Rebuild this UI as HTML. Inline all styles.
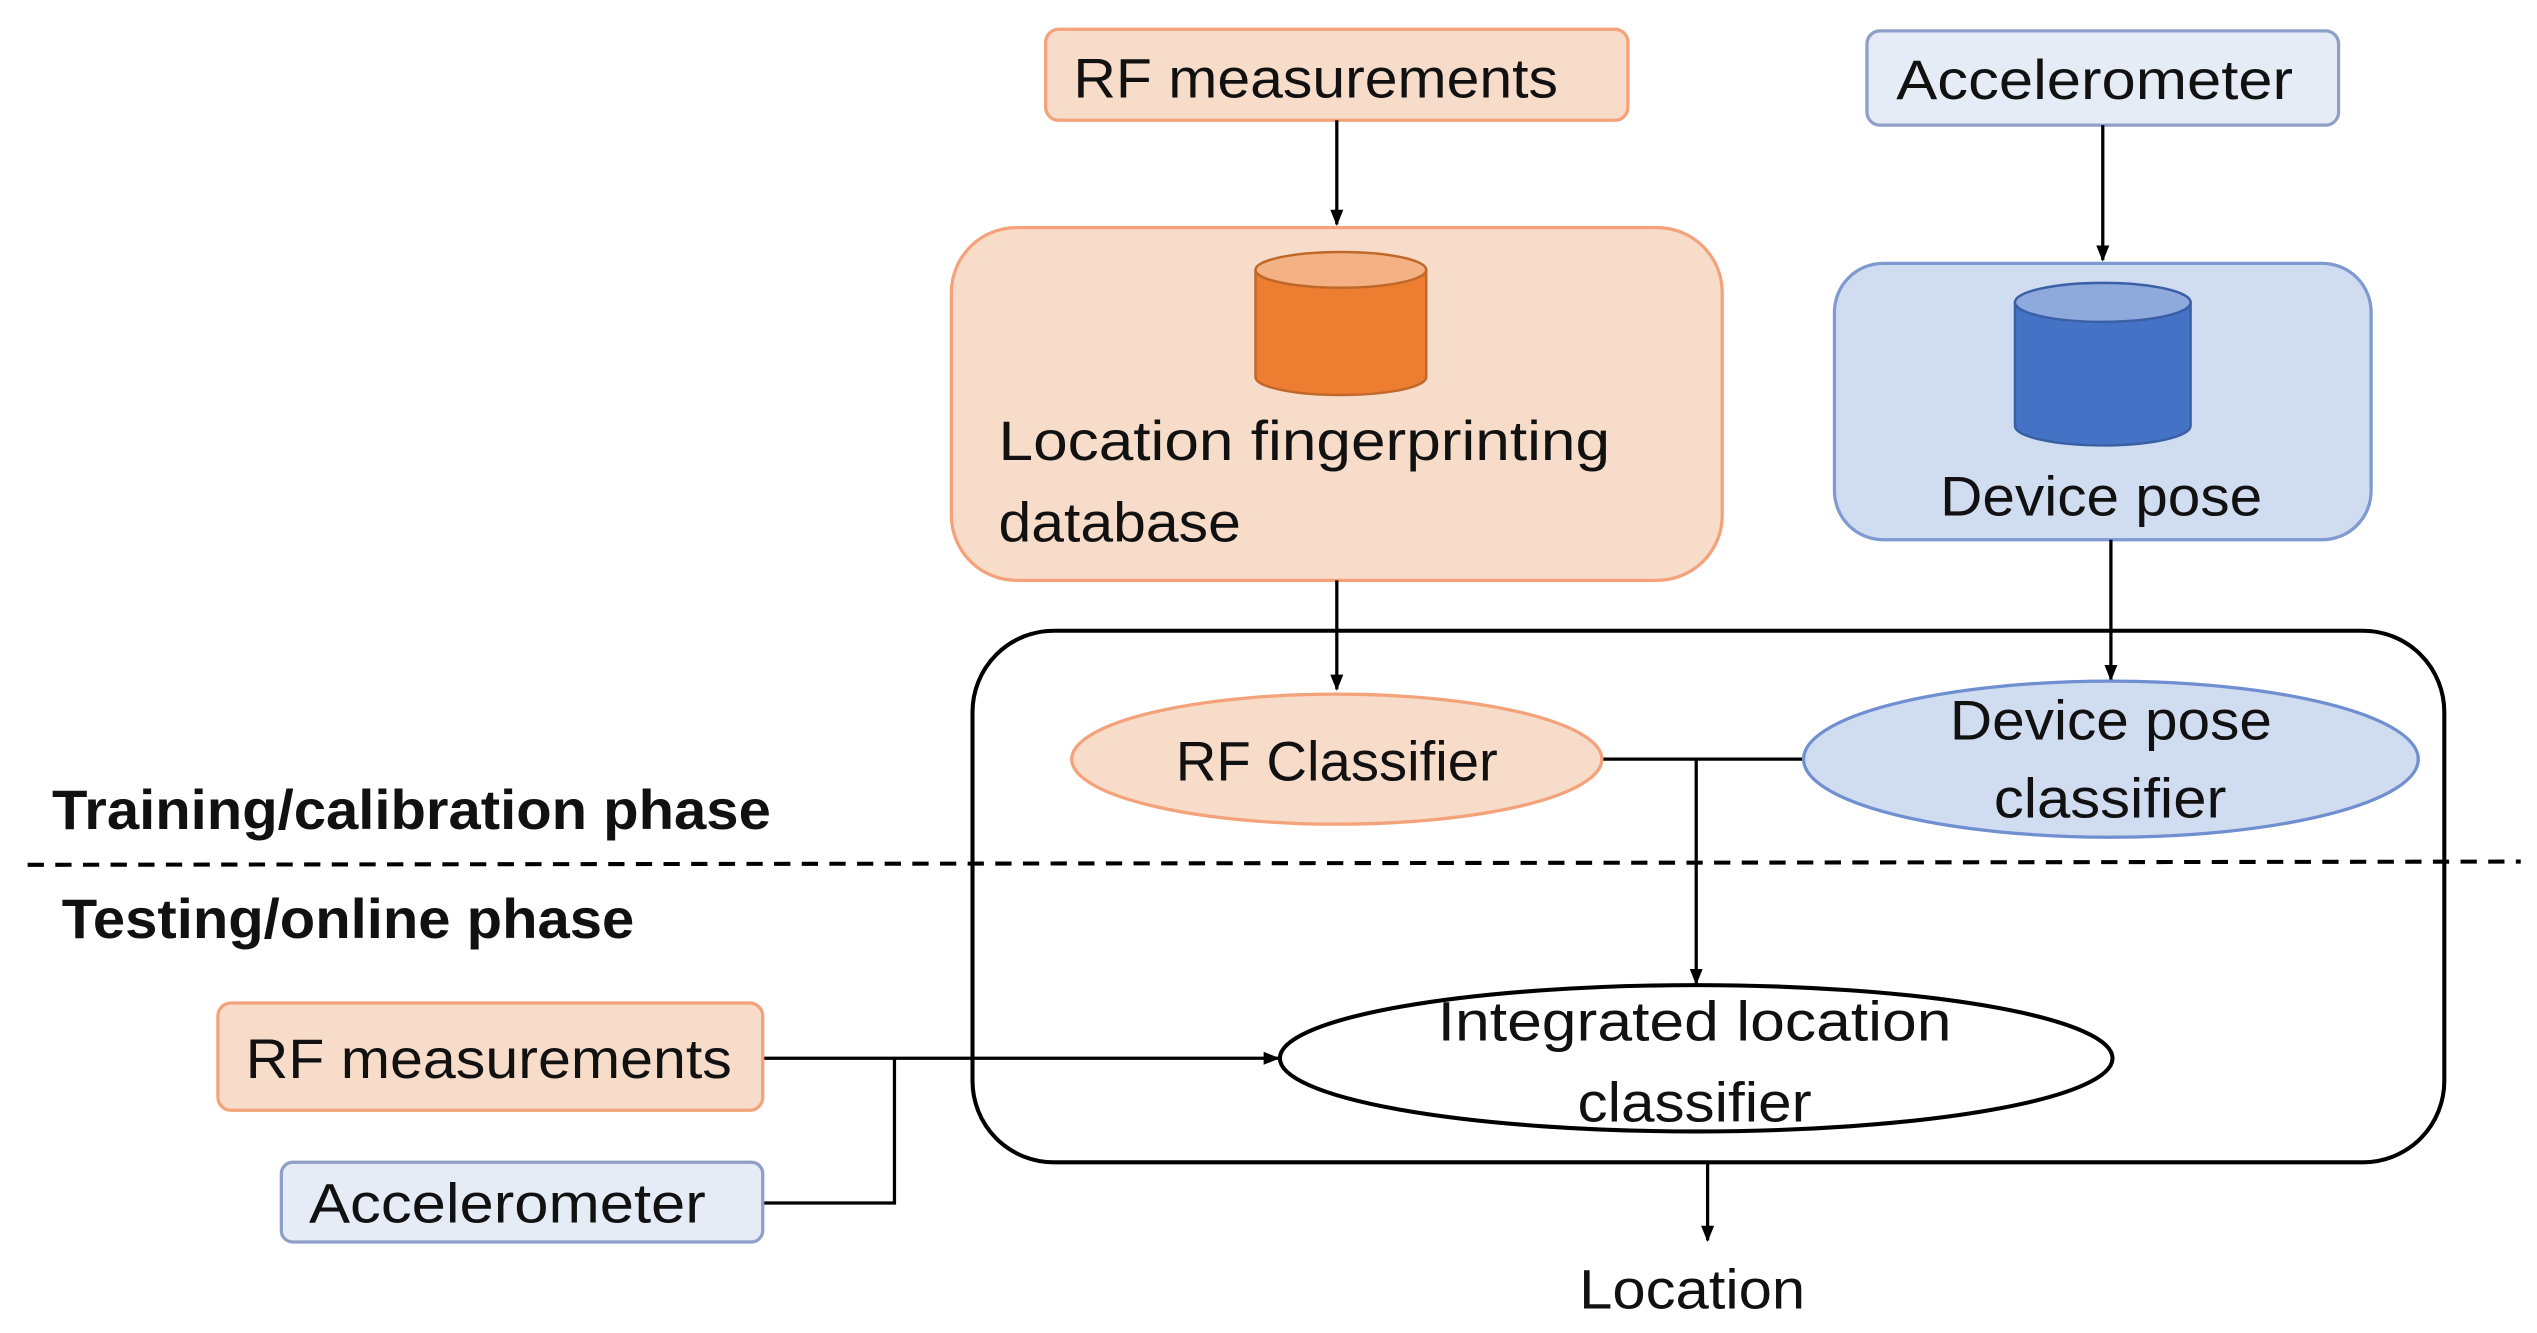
<!DOCTYPE html>
<html><head><meta charset="utf-8"><style>html,body{margin:0;padding:0;background:#fff}svg{display:block}</style></head><body>
<svg width="2537" height="1333" viewBox="0 0 1560 820" preserveAspectRatio="none" xmlns="http://www.w3.org/2000/svg" font-family="Liberation Sans, sans-serif" font-size="34" fill="#111">
<defs><marker id="a" markerWidth="10" markerHeight="10" refX="9" refY="5" orient="auto" markerUnits="userSpaceOnUse"><path d="M0,1 L10,5 L0,9 z" fill="#000"/></marker></defs>
<rect x="643" y="18" width="358" height="56" rx="8" fill="#f8dcca" stroke="#f4a27a" stroke-width="2"/>
<text x="660" y="60" textLength="298" lengthAdjust="spacingAndGlyphs">RF measurements</text>
<rect x="1148" y="19" width="290" height="58" rx="8" fill="#e5ecf6" stroke="#8e9fc8" stroke-width="2"/>
<text x="1166" y="61" textLength="244" lengthAdjust="spacingAndGlyphs">Accelerometer</text>
<g stroke="#000" stroke-width="2" fill="none">
<line x1="822" y1="74" x2="822" y2="138" marker-end="url(#a)"/>
<line x1="1293" y1="77" x2="1293" y2="160" marker-end="url(#a)"/>
</g>
<rect x="585" y="140" width="474" height="217" rx="40" fill="#f8dcca" stroke="#f4a27a" stroke-width="2"/>
<path d="M772,166 L772,232 A52.5,11 0 0 0 877,232 L877,166 Z" fill="#ed7d31" stroke="#c0682a" stroke-width="1.5"/>
<ellipse cx="824.5" cy="166" rx="52.5" ry="11" fill="#f4b183" stroke="#c0682a" stroke-width="1.5"/>
<text x="614" y="283" textLength="376" lengthAdjust="spacingAndGlyphs">Location fingerprinting</text>
<text x="614" y="333" textLength="149" lengthAdjust="spacingAndGlyphs">database</text>
<rect x="1128" y="162" width="330" height="170" rx="30" fill="#d0dcf0" stroke="#7f9ad0" stroke-width="2"/>
<path d="M1239,186 L1239,262 A54,12 0 0 0 1347,262 L1347,186 Z" fill="#4472c4" stroke="#3a5fa5" stroke-width="1.5"/>
<ellipse cx="1293" cy="186" rx="54" ry="12" fill="#8eaadc" stroke="#3a5fa5" stroke-width="1.5"/>
<text x="1193" y="317" textLength="198" lengthAdjust="spacingAndGlyphs">Device pose</text>
<rect x="598" y="388" width="905" height="327" rx="50" fill="none" stroke="#000" stroke-width="2.5"/>
<line x1="17" y1="532" x2="1550" y2="530" stroke="#000" stroke-width="2.5" stroke-dasharray="10,7"/>
<g stroke="#000" stroke-width="2" fill="none">
<line x1="822" y1="357" x2="822" y2="424" marker-end="url(#a)"/>
<line x1="1298" y1="332" x2="1298" y2="418" marker-end="url(#a)"/>
<line x1="985" y1="467" x2="1110" y2="467"/>
<line x1="1043" y1="467" x2="1043" y2="605" marker-end="url(#a)"/>
<line x1="469" y1="651" x2="786" y2="651" marker-end="url(#a)"/>
<polyline points="469,740 550,740 550,651"/>
<line x1="1050" y1="715" x2="1050" y2="763" marker-end="url(#a)"/>
</g>
<ellipse cx="822" cy="467" rx="163" ry="40" fill="#f8dcca" stroke="#f4a27a" stroke-width="2"/>
<text x="723" y="480" textLength="198" lengthAdjust="spacingAndGlyphs">RF Classifier</text>
<ellipse cx="1298" cy="467" rx="189" ry="48" fill="#d0dcf0" stroke="#6f8fd0" stroke-width="2"/>
<text x="1199" y="455" textLength="198" lengthAdjust="spacingAndGlyphs">Device pose</text>
<text x="1226" y="503" textLength="143" lengthAdjust="spacingAndGlyphs">classifier</text>
<ellipse cx="1043" cy="651" rx="256" ry="45" fill="#fff" stroke="#000" stroke-width="2.5"/>
<text x="884" y="640" textLength="316" lengthAdjust="spacingAndGlyphs">Integrated location</text>
<text x="970" y="690" textLength="144" lengthAdjust="spacingAndGlyphs">classifier</text>
<text x="32" y="510" font-weight="bold" textLength="442" lengthAdjust="spacingAndGlyphs">Training/calibration phase</text>
<text x="38" y="577" font-weight="bold" textLength="352" lengthAdjust="spacingAndGlyphs">Testing/online phase</text>
<rect x="134" y="617" width="335" height="66" rx="8" fill="#f8dcca" stroke="#f4a27a" stroke-width="2"/>
<text x="151" y="663" textLength="299" lengthAdjust="spacingAndGlyphs">RF measurements</text>
<rect x="173" y="715" width="296" height="49" rx="7" fill="#e5ecf6" stroke="#8e9fc8" stroke-width="2"/>
<text x="190" y="752" textLength="244" lengthAdjust="spacingAndGlyphs">Accelerometer</text>
<text x="971" y="805" textLength="139" lengthAdjust="spacingAndGlyphs">Location</text>
</svg>
</body></html>
